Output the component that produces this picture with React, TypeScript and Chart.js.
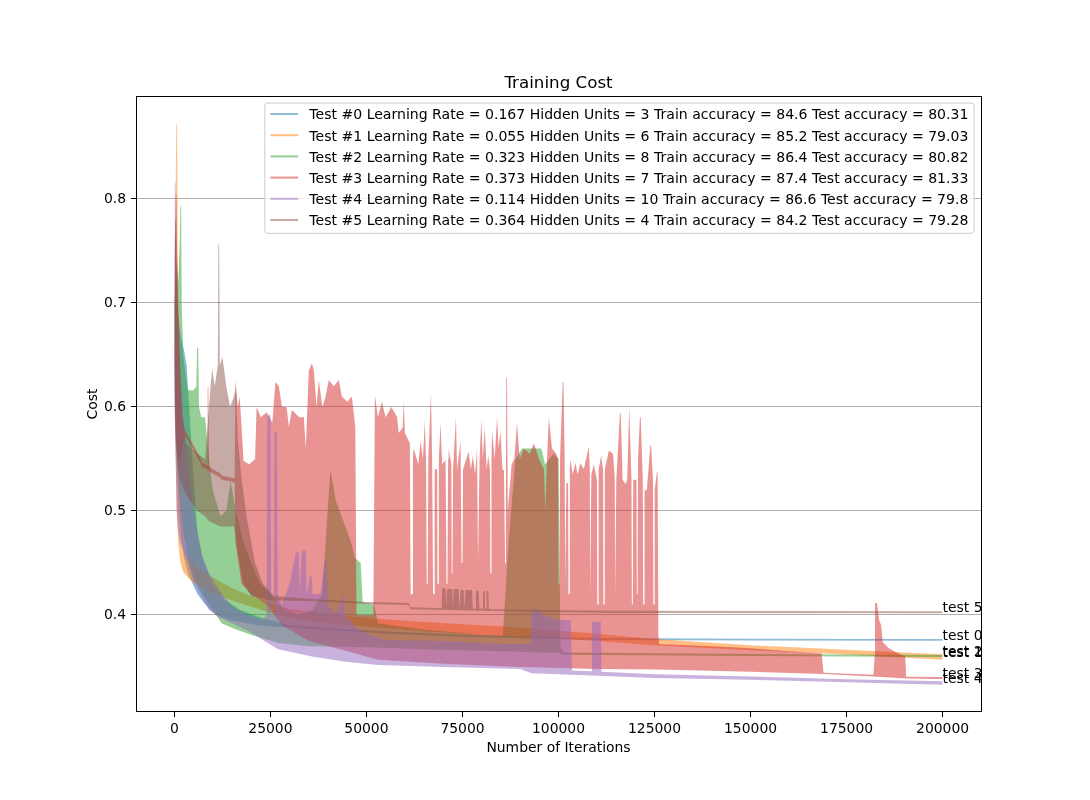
import React, { useEffect, useRef } from 'react';
import Chart from 'chart.js/auto';

type Pt = [number, number];

// tick labels
const xTickValues = [0, 25000, 50000, 75000, 100000, 125000, 150000, 175000, 200000];
const yTickValues = [0.4, 0.5, 0.6, 0.7, 0.8];

const legendLabels = [
  'Test #0 Learning Rate = 0.167 Hidden Units = 3 Train accuracy = 84.6 Test accuracy = 80.31',
  'Test #1 Learning Rate = 0.055 Hidden Units = 6 Train accuracy = 85.2 Test accuracy = 79.03',
  'Test #2 Learning Rate = 0.323 Hidden Units = 8 Train accuracy = 86.4 Test accuracy = 80.82',
  'Test #3 Learning Rate = 0.373 Hidden Units = 7 Train accuracy = 87.4 Test accuracy = 81.33',
  'Test #4 Learning Rate = 0.114 Hidden Units = 10 Train accuracy = 86.6 Test accuracy = 79.8',
  'Test #5 Learning Rate = 0.364 Hidden Units = 4 Train accuracy = 84.2 Test accuracy = 79.28',
];
const endLabels = ['test 0', 'test 1', 'test 2', 'test 3', 'test 4', 'test 5'];
const colors = ['31,119,180', '255,127,14', '44,160,44', '214,39,40', '148,103,189', '140,86,75'];

const test0Upper: Pt[] = [
  [0, 0.70], [300, 0.72], [700, 0.70], [1200, 0.68], [1800, 0.665], [2500, 0.655], [3200, 0.64],
  [4000, 0.59], [5000, 0.53], [6000, 0.48], [7500, 0.452], [10000, 0.43], [13000, 0.415],
  [17000, 0.405], [22000, 0.398], [30000, 0.390], [40000, 0.3875], [55000, 0.384], [75000, 0.381],
  [95000, 0.3792], [110000, 0.3778], [150000, 0.3772], [200000, 0.3768],
];
const test0Lower: Pt[] = [
  [0, 0.66], [300, 0.60], [700, 0.54], [1200, 0.50], [1800, 0.475], [2500, 0.455], [3500, 0.44],
  [4500, 0.432], [6000, 0.42], [7600, 0.412], [9500, 0.404], [11500, 0.399], [15000, 0.395],
  [20000, 0.391], [25000, 0.389], [30000, 0.388], [40000, 0.3855], [55000, 0.382], [75000, 0.379],
  [95000, 0.3772], [110000, 0.376], [150000, 0.3754], [200000, 0.3752],
];

const test1Upper: Pt[] = [
  [0, 0.70], [300, 0.80], [500, 0.872], [700, 0.872], [900, 0.70], [1200, 0.60], [1600, 0.53],
  [2200, 0.475], [3000, 0.458], [5000, 0.45], [7000, 0.443], [10000, 0.436], [15000, 0.426],
  [20000, 0.418], [25000, 0.411], [30000, 0.406], [40000, 0.401], [50000, 0.397], [62000, 0.394],
  [75000, 0.391], [90000, 0.388], [110000, 0.382], [125000, 0.377], [150000, 0.371],
  [175000, 0.3665], [200000, 0.3622],
];
const test1Lower: Pt[] = [
  [0, 0.66], [300, 0.56], [600, 0.50], [1000, 0.47], [1500, 0.452], [2200, 0.442], [3500, 0.436],
  [5000, 0.431], [7000, 0.427], [10000, 0.421], [15000, 0.414], [20000, 0.408], [25000, 0.402],
  [30000, 0.397], [40000, 0.392], [50000, 0.389], [62000, 0.385], [75000, 0.382], [90000, 0.379],
  [110000, 0.375], [125000, 0.371], [150000, 0.366], [175000, 0.362], [200000, 0.357],
];

const test2Upper: Pt[] = [
  [0, 0.70], [500, 0.74], [1000, 0.72], [1400, 0.76], [1550, 0.793], [1750, 0.793], [1900, 0.70],
  [2300, 0.65], [3000, 0.63], [3500, 0.616], [5000, 0.616], [5700, 0.62], [5900, 0.657],
  [6200, 0.657], [6400, 0.60], [7000, 0.59], [8000, 0.59], [9000, 0.55], [10000, 0.52],
  [12000, 0.495], [13500, 0.50], [14600, 0.528], [16000, 0.50], [18000, 0.47], [20000, 0.45],
  [22000, 0.432], [25000, 0.42], [28000, 0.408], [32000, 0.40], [36000, 0.405], [38500, 0.42],
  [40600, 0.54], [42000, 0.51], [44000, 0.49], [46000, 0.47], [47000, 0.455], [48500, 0.45],
  [49000, 0.412], [52000, 0.41], [53000, 0.392], [65000, 0.386], [80000, 0.381], [85500, 0.38],
  [87000, 0.47], [88800, 0.55], [90500, 0.56], [95500, 0.56], [96500, 0.545], [98800, 0.555],
  [100000, 0.55], [100500, 0.37], [101500, 0.3638], [150000, 0.3625], [200000, 0.3616],
];
const test2Lower: Pt[] = [
  [0, 0.62], [500, 0.56], [1000, 0.53], [1500, 0.51], [2300, 0.48], [3000, 0.465], [4000, 0.448],
  [5000, 0.437], [7000, 0.422], [9000, 0.41], [12300, 0.392], [16000, 0.386], [20000, 0.381],
  [27000, 0.373], [35000, 0.37], [50000, 0.369], [65000, 0.367], [85000, 0.365], [100000, 0.3635],
  [101500, 0.3618], [150000, 0.3605], [200000, 0.3596],
];

const test3Upper: Pt[] = [
  [0, 0.72], [200, 0.78], [350, 0.804], [500, 0.804], [700, 0.75], [1000, 0.70], [1500, 0.64],
  [2000, 0.60], [2500, 0.582], [3000, 0.576], [5000, 0.563], [6800, 0.551], [7000, 0.547],
  [8000, 0.545], [8500, 0.544], [8650, 0.619], [8850, 0.619], [9000, 0.543], [10000, 0.540],
  [12000, 0.536], [12300, 0.534], [15000, 0.532], [15700, 0.531], [15900, 0.626], [16500, 0.60],
  [17000, 0.61], [17500, 0.58], [18000, 0.548], [19500, 0.545], [21000, 0.55], [21400, 0.60],
  [22500, 0.59], [24000, 0.595], [25500, 0.585], [26300, 0.624], [27200, 0.62], [28000, 0.60],
  [29200, 0.60], [29800, 0.581], [30600, 0.597], [32500, 0.59], [33700, 0.59], [34200, 0.56],
  [35000, 0.635], [35800, 0.642], [36300, 0.635], [37000, 0.60], [37600, 0.626], [38500, 0.60],
  [39300, 0.609], [40200, 0.626], [41500, 0.62], [42800, 0.626], [43600, 0.61], [45000, 0.605],
  [46200, 0.61], [47100, 0.581], [47400, 0.40], [51800, 0.40], [52200, 0.611], [53000, 0.59],
  [54000, 0.605], [55000, 0.59], [56500, 0.60], [58000, 0.59],
  [58400, 0.575], [59400, 0.58], [59700, 0.605], [60000, 0.575], [61300, 0.565], [61500, 0.42],
  [61900, 0.42], [62100, 0.55], [62300, 0.56], [63500, 0.545], [64100, 0.567], [64700, 0.55],
  [65200, 0.587], [65500, 0.55], [65700, 0.43], [65950, 0.43], [66100, 0.55], [66800, 0.614],
  [67100, 0.55], [67350, 0.42], [67600, 0.42], [67750, 0.54], [68400, 0.54], [68500, 0.43],
  [68700, 0.43], [68850, 0.55], [69300, 0.585], [69700, 0.545], [70600, 0.549], [70850, 0.43],
  [71100, 0.43], [71250, 0.55], [71400, 0.56], [72100, 0.545], [72200, 0.44], [72400, 0.44],
  [72550, 0.54], [73300, 0.59], [73600, 0.54], [74500, 0.567], [74750, 0.45], [75000, 0.45],
  [75150, 0.54], [76600, 0.557], [77200, 0.54], [77700, 0.553], [78300, 0.535], [78800, 0.56],
  [79050, 0.45], [79300, 0.45], [79450, 0.55], [79900, 0.588], [80300, 0.55], [80800, 0.58],
  [81300, 0.54], [81700, 0.553], [82150, 0.54], [82250, 0.44], [82450, 0.44], [82550, 0.55],
  [82700, 0.577], [83400, 0.55], [84000, 0.59], [84400, 0.56], [84900, 0.577], [85400, 0.54],
  [85800, 0.539], [86100, 0.45], [86300, 0.50], [86400, 0.628], [86600, 0.628], [86800, 0.50],
  [87800, 0.545], [88500, 0.55], [89200, 0.584], [89900, 0.55], [91000, 0.56], [92500, 0.555],
  [93600, 0.565], [94900, 0.55], [96200, 0.54], [96600, 0.50], [96900, 0.54], [97500, 0.59],
  [98300, 0.56], [99400, 0.555], [99900, 0.55], [100000, 0.43], [100250, 0.43], [100400, 0.55],
  [101100, 0.624], [101300, 0.624], [101600, 0.55], [101750, 0.43], [101950, 0.43], [102050, 0.527],
  [102500, 0.527], [102600, 0.42], [102850, 0.42], [102950, 0.54], [103100, 0.55], [103700, 0.535],
  [104400, 0.546], [105000, 0.535], [105700, 0.546], [106600, 0.54], [107900, 0.562], [108150, 0.54],
  [108250, 0.42], [108450, 0.42], [108550, 0.535], [109200, 0.545], [110000, 0.53], [110100, 0.41],
  [110350, 0.41], [110450, 0.54], [111100, 0.553], [111600, 0.54], [111700, 0.41], [111950, 0.41],
  [112050, 0.54], [113100, 0.558], [114200, 0.555], [114650, 0.53], [114750, 0.42], [114950, 0.42],
  [115050, 0.53], [116000, 0.594], [116200, 0.594], [116700, 0.53], [117400, 0.526], [117900, 0.53],
  [118400, 0.60], [118600, 0.60], [119000, 0.53], [119100, 0.41], [119350, 0.41], [119450, 0.53],
  [120300, 0.53], [120400, 0.42], [120600, 0.42], [120700, 0.55], [121200, 0.59], [121400, 0.59],
  [121950, 0.53], [122050, 0.41], [122300, 0.41], [122400, 0.52], [123000, 0.52], [123900, 0.563],
  [124100, 0.563], [124600, 0.53], [124700, 0.41], [124950, 0.41], [125050, 0.52], [125600, 0.537],
  [125800, 0.537], [126000, 0.38], [126200, 0.372], [140000, 0.37], [150000, 0.368],
  [160000, 0.365], [168500, 0.363], [169000, 0.3445], [182000, 0.3425], [182300, 0.36],
  [182400, 0.4115], [182900, 0.4115], [183500, 0.395], [184000, 0.39], [184400, 0.374],
  [186000, 0.368], [188000, 0.364], [190300, 0.36], [190500, 0.3405], [200000, 0.3404],
];
const test3Lower: Pt[] = [
  [0, 0.64], [300, 0.58], [700, 0.56], [1000, 0.55], [1500, 0.55], [2000, 0.56], [2500, 0.568],
  [3000, 0.571], [5000, 0.558], [6800, 0.546], [7000, 0.543], [8000, 0.541], [10000, 0.536],
  [12000, 0.532], [12300, 0.530], [15000, 0.528], [15700, 0.527], [15900, 0.47], [17500, 0.43],
  [20000, 0.42], [24000, 0.41], [28000, 0.39], [35000, 0.375], [45000, 0.365], [53000, 0.357],
  [70000, 0.353], [90000, 0.350], [110000, 0.348], [126000, 0.3475], [150000, 0.3455],
  [169000, 0.3432], [182000, 0.3408], [190500, 0.3388], [200000, 0.3384],
];

const test4Upper: Pt[] = [
  [0, 0.70], [80, 0.816], [250, 0.816], [400, 0.77], [700, 0.70], [1000, 0.66], [1500, 0.62],
  [2500, 0.58], [3500, 0.55], [5000, 0.50], [7000, 0.46], [9000, 0.44], [11500, 0.425],
  [15000, 0.408], [19000, 0.40], [23000, 0.395], [24000, 0.40], [24200, 0.592], [25000, 0.592],
  [25200, 0.40], [25900, 0.40], [26100, 0.576], [26700, 0.576], [26900, 0.42], [28000, 0.41],
  [30000, 0.43], [31600, 0.46], [32400, 0.46], [32600, 0.42], [33200, 0.462], [34200, 0.462],
  [34400, 0.42], [35300, 0.438], [35700, 0.438], [36000, 0.42], [38000, 0.42], [39200, 0.453],
  [39600, 0.453], [40000, 0.41], [42000, 0.40], [44000, 0.42], [44400, 0.40], [48000, 0.385],
  [55000, 0.376], [70000, 0.375], [85000, 0.372], [92800, 0.372], [93000, 0.405], [94500, 0.405],
  [96000, 0.40], [99000, 0.396], [103200, 0.395], [103500, 0.3465], [108500, 0.346],
  [108700, 0.3935], [111000, 0.3935], [111200, 0.3455], [125000, 0.343], [150000, 0.3408],
  [175000, 0.3382], [200000, 0.3362],
];
const test4Lower: Pt[] = [
  [0, 0.62], [300, 0.55], [600, 0.50], [1000, 0.48], [1500, 0.47], [2500, 0.46], [3500, 0.45],
  [5000, 0.432], [7000, 0.418], [9000, 0.405], [11500, 0.398], [15000, 0.392], [19000, 0.385],
  [23000, 0.376], [27000, 0.367], [35800, 0.36], [44500, 0.355], [53000, 0.352], [70000, 0.35],
  [90000, 0.348], [93000, 0.344], [103500, 0.3425], [125000, 0.3395], [150000, 0.3378],
  [175000, 0.3352], [200000, 0.333],
];

const test5Upper: Pt[] = [
  [0, 0.66], [100, 0.77], [300, 0.76], [700, 0.72], [1200, 0.66], [2000, 0.59], [3000, 0.565],
  [4500, 0.56], [6000, 0.555], [8000, 0.55], [9000, 0.60], [9800, 0.637], [10500, 0.62],
  [11300, 0.64], [11450, 0.756], [11650, 0.756], [11800, 0.64], [12500, 0.648], [13500, 0.62],
  [14500, 0.60], [15500, 0.61], [16000, 0.62], [16500, 0.57], [17500, 0.53], [19000, 0.49],
  [21000, 0.45], [23000, 0.43], [26000, 0.418], [35000, 0.4155], [50000, 0.4125], [61000, 0.4115],
  [61500, 0.4075], [69600, 0.4065], [69700, 0.426], [70600, 0.426], [70800, 0.407], [71000, 0.425],
  [72300, 0.425], [72500, 0.407], [72700, 0.425], [74000, 0.425], [74200, 0.407], [74500, 0.424],
  [75300, 0.424], [75500, 0.407], [75800, 0.424], [77500, 0.424], [77700, 0.406], [78400, 0.406],
  [78500, 0.423], [79200, 0.423], [79400, 0.406], [80300, 0.406], [80400, 0.423], [80800, 0.423],
  [80900, 0.406], [81200, 0.406], [81300, 0.423], [81700, 0.423], [81900, 0.4055], [100000, 0.4045],
  [115000, 0.404], [200000, 0.4036],
];
const test5Lower: Pt[] = [
  [0, 0.60], [300, 0.57], [700, 0.55], [1500, 0.53], [2500, 0.52], [4000, 0.51], [6000, 0.50],
  [8000, 0.495], [9000, 0.49], [12000, 0.485], [15500, 0.485], [16500, 0.46], [18000, 0.43],
  [20000, 0.418], [25000, 0.414], [35000, 0.4135], [50000, 0.4105], [61000, 0.4095],
  [61500, 0.4055], [100000, 0.4025], [115000, 0.402], [200000, 0.4016],
];

const bands = [
  { upper: test0Upper, lower: test0Lower },
  { upper: test1Upper, lower: test1Lower },
  { upper: test2Upper, lower: test2Lower },
  { upper: test3Upper, lower: test3Lower },
  { upper: test4Upper, lower: test4Lower },
  { upper: test5Upper, lower: test5Lower },
];

const FONT = '"DejaVu Sans", "Liberation Sans", sans-serif';
const FS = 13.9;
const LEGEND_FS = 14.05;

const decorPlugin = {
  id: 'mplDecor',
  afterDatasetsDraw(chart: any) {
    const { ctx, chartArea: a, scales } = chart;
    // end-of-run labels, clipped to the axes like the original
    ctx.save();
    ctx.beginPath();
    ctx.rect(a.left, a.top, a.right - a.left, a.bottom - a.top);
    ctx.clip();
    ctx.font = `${FS}px ${FONT}`;
    ctx.fillStyle = '#000';
    ctx.textAlign = 'left';
    ctx.textBaseline = 'alphabetic';
    bands.forEach((b, i) => {
      const u = b.upper[b.upper.length - 1];
      const l = b.lower[b.lower.length - 1];
      ctx.fillText(endLabels[i], scales.x.getPixelForValue(u[0]), scales.y.getPixelForValue((u[1] + l[1]) / 2));
    });
    ctx.restore();

    // axes frame
    ctx.save();
    ctx.strokeStyle = '#000';
    ctx.lineWidth = 1;
    const x0 = Math.floor(a.left) + 0.5;
    const x1 = Math.floor(a.right) + 0.5;
    const y0 = Math.floor(a.top) + 0.5;
    const y1 = Math.floor(a.bottom - 0.5) + 0.5;
    ctx.strokeRect(x0, y0, x1 - x0, y1 - y0);
    ctx.restore();
  },
  afterDraw(chart: any) {
    const { ctx, chartArea: a } = chart;
    const cx = (a.left + a.right) / 2;
    ctx.save();
    ctx.fillStyle = '#000';

    // title
    ctx.font = `16.7px ${FONT}`;
    ctx.textAlign = 'center';
    ctx.textBaseline = 'alphabetic';
    ctx.fillText('Training Cost', cx, a.top - 7.7);

    // axis labels
    ctx.font = `${FS}px ${FONT}`;
    ctx.fillText('Number of Iterations', cx, 752.3);
    ctx.save();
    ctx.translate(96.5, (a.top + a.bottom) / 2);
    ctx.rotate(-Math.PI / 2);
    ctx.fillText('Cost', 0, 0);
    ctx.restore();

    // legend
    ctx.font = `${LEGEND_FS}px ${FONT}`;
    let textW = 0;
    legendLabels.forEach((t) => { textW = Math.max(textW, ctx.measureText(t).width); });
    const right = a.right - 7;
    const left = right - 5.6 - textW - 11.1 - 27.8 - 5.6;
    const top = a.top + 7;
    const bottom = top + 130.3;
    ctx.beginPath();
    if ((ctx as any).roundRect) (ctx as any).roundRect(left, top, right - left, bottom - top, 3);
    else ctx.rect(left, top, right - left, bottom - top);
    ctx.fillStyle = 'rgba(255,255,255,0.8)';
    ctx.fill();
    ctx.strokeStyle = '#cccccc';
    ctx.lineWidth = 1;
    ctx.stroke();
    ctx.textAlign = 'left';
    legendLabels.forEach((t, i) => {
      const yLine = top + 11 + i * 21.2;
      ctx.strokeStyle = `rgba(${colors[i]},0.5)`;
      ctx.lineWidth = 2;
      ctx.beginPath();
      ctx.moveTo(left + 5.6, yLine);
      ctx.lineTo(left + 5.6 + 27.8, yLine);
      ctx.stroke();
      ctx.fillStyle = '#000';
      ctx.fillText(t, left + 5.6 + 27.8 + 11.1, yLine + 5.3);
    });
    ctx.restore();
  },
};

export default function App() {
  const canvasRef = useRef<HTMLCanvasElement>(null);

  useEffect(() => {
    if (!canvasRef.current) return;

    const datasets: any[] = [];
    // first dataset is painted last in Chart.js, so push test 5 first to keep it on top
    for (let i = bands.length - 1; i >= 0; i--) {
      const fillColor = `rgba(${colors[i]},0.5)`;
      datasets.push({
        label: `upper ${i}`,
        data: bands[i].upper.map(([x, y]) => ({ x, y })),
        borderColor: 'rgba(0,0,0,0)',
        borderWidth: 1,
        backgroundColor: fillColor,
        fill: '+1',
        pointRadius: 0,
        tension: 0,
      });
      datasets.push({
        label: `lower ${i}`,
        data: bands[i].lower.map(([x, y]) => ({ x, y })),
        borderColor: 'rgba(0,0,0,0)',
        borderWidth: 1,
        backgroundColor: fillColor,
        fill: false,
        pointRadius: 0,
        tension: 0,
      });
    }

    const chart = new Chart(canvasRef.current, {
      type: 'line',
      data: { datasets },
      options: {
        animation: false,
        responsive: false,
        maintainAspectRatio: false,
        devicePixelRatio: 1,
        events: [],
        layout: { padding: { left: 0, top: 96, right: 109, bottom: 0 } },
        plugins: {
          legend: { display: false },
          tooltip: { enabled: false },
          title: { display: false },
        },
        scales: {
          x: {
            type: 'linear',
            min: -10000,
            max: 210000,
            afterBuildTicks: (scale: any) => {
              scale.ticks = xTickValues.map((v) => ({ value: v }));
            },
            afterFit: (scale: any) => {
              scale.height = 88;
            },
            ticks: {
              autoSkip: false,
              maxRotation: 0,
              padding: 4,
              color: '#000',
              font: { family: FONT, size: FS },
              callback: (v: any) => String(v),
            },
            grid: { drawOnChartArea: false, tickLength: 5, tickColor: '#000', tickWidth: 1 },
            border: { display: false },
          },
          y: {
            type: 'linear',
            min: 0.3067,
            max: 0.899,
            afterBuildTicks: (scale: any) => {
              scale.ticks = yTickValues.map((v) => ({ value: v }));
            },
            afterFit: (scale: any) => {
              scale.width = 136;
            },
            ticks: {
              padding: 5,
              color: '#000',
              font: { family: FONT, size: FS },
              callback: (v: any) => Number(v).toFixed(1),
            },
            grid: { color: '#b0b0b0', lineWidth: 1, tickLength: 5, tickColor: '#000', tickWidth: 1 },
            border: { display: false },
          },
        },
      },
      plugins: [decorPlugin],
    } as any);

    return () => chart.destroy();
  }, []);

  return (
    <div style={{ position: 'absolute', left: 0, top: 0, width: 1090, height: 800, background: '#fff' }}>
      <canvas ref={canvasRef} width={1090} height={800} style={{ display: 'block', width: 1090, height: 800 }} />
    </div>
  );
}
